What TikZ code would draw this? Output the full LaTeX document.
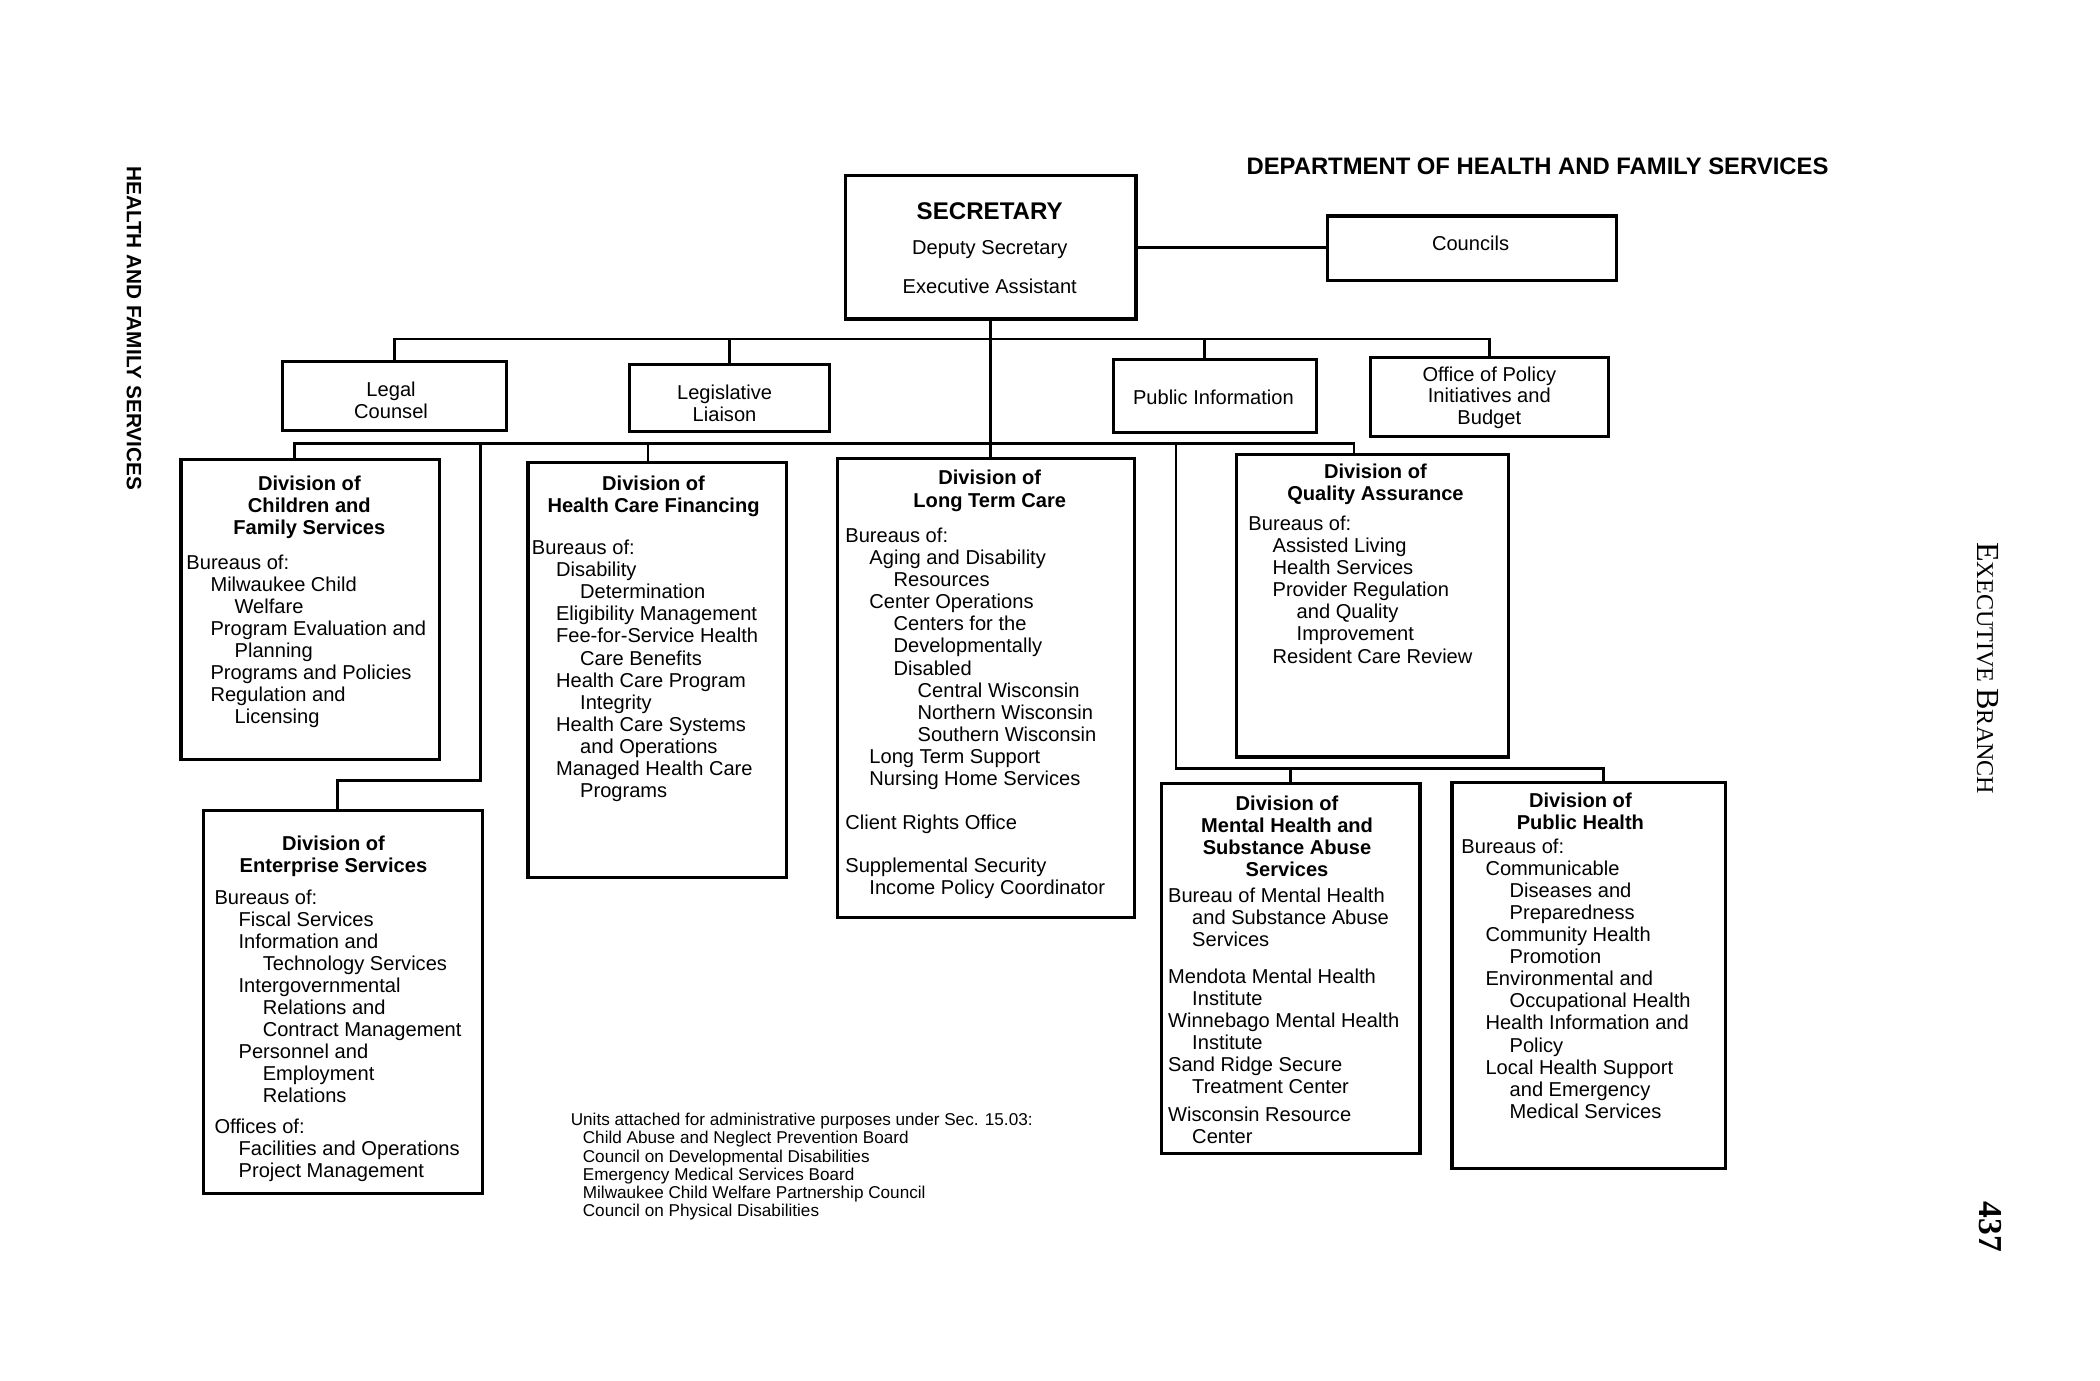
\documentclass[tikz,border=0pt]{standalone}
\usepackage{fontspec}
\setmainfont{Liberation Sans}
\newfontfamily\pageserif{Liberation Serif}
\usetikzlibrary{calc}
\newcommand{\indA}{\hspace*{18pt}}
\newcommand{\indB}{\hspace*{36pt}}
\newcommand{\indC}{\hspace*{54pt}}
\begin{document}
\begin{tikzpicture}[x=1pt, y=-1pt,
        box/.style={draw, line width=2.4pt, anchor=north west, inner sep=0pt},
        conn/.style={line width=2pt},
        ttl/.style={anchor=north, align=center, inner sep=0pt, font=\fontsize{15}{16.5}\selectfont\bfseries},
        body/.style={anchor=north west, align=left, inner sep=0pt, font=\fontsize{15}{16.5}\selectfont},
        small/.style={align=center, inner sep=0pt, font=\fontsize{15}{16}\selectfont}]
    \useasboundingbox (0,0) rectangle (1568,1030.4);
    % margins
    \node[rotate=-90, font=\fontsize{15.5}{16}\selectfont\bfseries] (running) at (100,245) {HEALTH AND FAMILY SERVICES};
    \node[rotate=-90, font=\pageserif\fontsize{18}{20}\selectfont] (branch) at (1484,499)
        {{\fontsize{24}{26}\selectfont E}XECUTIVE {\fontsize{24}{26}\selectfont B}RANCH};
    \node[rotate=-90, font=\pageserif\fontsize{25}{27}\selectfont\bfseries] (page) at (1486,916) {437};
    \node[font=\fontsize{17.8}{19}\selectfont\bfseries] (dept) at (1148,124) {DEPARTMENT OF HEALTH AND FAMILY SERVICES};

    % top level
    \node[box, minimum width=217pt, minimum height=107pt] (sec) at (630,130) {};
    \node[font=\fontsize{18}{20}\selectfont\bfseries] (sectl) at (739,158) {SECRETARY};
    \node[font=\fontsize{15}{16}\selectfont] (dep) at (739,186) {Deputy Secretary};
    \node[font=\fontsize{15}{16}\selectfont] (exe) at (739,214) {Executive Assistant};
    \node[box, minimum width=216pt, minimum height=48pt] (cou) at (990,160) {};
    \node[small] (coutx) at (1098,182) {Councils};

    % staff offices
    \node[box, minimum width=167pt, minimum height=51pt] (legal) at (210,269) {};
    \node[small] (legaltx) at (292,299) {Legal\\Counsel};
    \node[box, minimum width=149pt, minimum height=50pt] (lia) at (469,271) {};
    \node[small] (liatx) at (541,301) {Legislative\\Liaison};
    \node[box, minimum width=152pt, minimum height=55pt] (pub) at (830,267) {};
    \node[small] (pubtx) at (906,297) {Public Information};
    \node[box, minimum width=178pt, minimum height=59pt] (pol) at (1022,266) {};
    \node[small] (poltx) at (1112,297) {Office of Policy\\Initiatives and\\Budget};

    % divisions
    \node[box, minimum width=193pt, minimum height=224pt] (cfs) at (134,342) {};
    \node[ttl] (cfstl) at (231,355) {Division of\\Children and\\Family Services};
    \node[body] (cfsbd) at (139,414) {Bureaus of:\\
        \indA Milwaukee Child\\ \indB Welfare\\
        \indA Program Evaluation and\\ \indB Planning\\
        \indA Programs and Policies\\
        \indA Regulation and\\ \indB Licensing};

    \node[box, minimum width=193pt, minimum height=310pt] (hcf) at (393,344) {};
    \node[ttl] (hcftl) at (488,355) {Division of\\Health Care Financing};
    \node[body] (hcfbd) at (397,403) {Bureaus of:\\
        \indA Disability\\ \indB Determination\\
        \indA Eligibility Management\\
        \indA Fee-for-Service Health\\ \indB Care Benefits\\
        \indA Health Care Program\\ \indB Integrity\\
        \indA Health Care Systems\\ \indB and Operations\\
        \indA Managed Health Care\\ \indB Programs};

    \node[box, minimum width=222pt, minimum height=343pt] (ltc) at (624,341) {};
    \node[ttl] (ltctl) at (739,351) {Division of\\Long Term Care};
    \node[body] (ltcbd) at (631,394) {Bureaus of:\\
        \indA Aging and Disability\\ \indB Resources\\
        \indA Center Operations\\
        \indB Centers for the\\ \indB Developmentally\\ \indB Disabled\\
        \indC Central Wisconsin\\ \indC Northern Wisconsin\\ \indC Southern Wisconsin\\
        \indA Long Term Support\\
        \indA Nursing Home Services\\[16pt]
        Client Rights Office\\[16pt]
        Supplemental Security\\ \indA Income Policy Coordinator};

    \node[box, minimum width=203pt, minimum height=226pt] (qa) at (922,338) {};
    \node[ttl] (qatl) at (1027,346) {Division of\\Quality Assurance};
    \node[body] (qabd) at (932,385) {Bureaus of:\\
        \indA Assisted Living\\
        \indA Health Services\\
        \indA Provider Regulation\\ \indB and Quality\\ \indB Improvement\\
        \indA Resident Care Review};

    \node[box, minimum width=208pt, minimum height=286pt] (ent) at (151,604) {};
    \node[ttl] (enttl) at (249,624) {Division of\\Enterprise Services};
    \node[body] (entbd) at (160,664) {Bureaus of:\\
        \indA Fiscal Services\\
        \indA Information and\\ \indB Technology Services\\
        \indA Intergovernmental\\ \indB Relations and\\ \indB Contract Management\\
        \indA Personnel and\\ \indB Employment\\ \indB Relations\\[6.5pt]
        Offices of:\\
        \indA Facilities and Operations\\
        \indA Project Management};

    \node[box, minimum width=193pt, minimum height=276pt] (mh) at (866,584) {};
    \node[ttl] (mhtl) at (961,594) {Division of\\Mental Health and\\Substance Abuse\\Services};
    \node[body] (mhbd) at (872,663) {Bureau of Mental Health\\
        \indA and Substance Abuse\\ \indA Services\\[10.5pt]
        Mendota Mental Health\\ \indA Institute\\
        Winnebago Mental Health\\ \indA Institute\\
        Sand Ridge Secure\\ \indA Treatment Center\\[4.5pt]
        Wisconsin Resource\\ \indA Center};

    \node[box, minimum width=204pt, minimum height=288pt] (ph) at (1083,583) {};
    \node[ttl] (phtl) at (1180,592) {Division of\\Public Health};
    \node[body] (phbd) at (1091,626) {Bureaus of:\\
        \indA Communicable\\ \indB Diseases and\\ \indB Preparedness\\
        \indA Community Health\\ \indB Promotion\\
        \indA Environmental and\\ \indB Occupational Health\\
        \indA Health Information and\\ \indB Policy\\
        \indA Local Health Support\\ \indB and Emergency\\ \indB Medical Services};

    \node[body, font=\fontsize{12.8}{13.6}\selectfont] (attached) at (426,831)
        {Units attached for administrative purposes under Sec. 15.03:\\
        \hspace*{9pt}Child Abuse and Neglect Prevention Board\\
        \hspace*{9pt}Council on Developmental Disabilities\\
        \hspace*{9pt}Emergency Medical Services Board\\
        \hspace*{9pt}Milwaukee Child Welfare Partnership Council\\
        \hspace*{9pt}Council on Physical Disabilities};

    % connectors
    \coordinate (busA) at (739,253);
    \coordinate (busB) at (739,331);
    \coordinate (pubin) at ($(pub.north west)!0.45!(pub.north east)$);
    \coordinate (cfsin) at ($(cfs.north west)!0.44!(cfs.north east)$);
    \coordinate (hcfin) at ($(hcf.north west)!0.465!(hcf.north east)$);
    \coordinate (qain) at ($(qa.north west)!0.433!(qa.north east)$);
    \coordinate (entin) at ($(ent.north west)!0.48!(ent.north east)$);
    \coordinate (phin) at ($(ph.north west)!0.554!(ph.north east)$);
    \coordinate (entbend) at (359,583);
    \coordinate (mhbend) at (878,574);
    \draw[conn] (sec.east) -- (sec.east -| cou.west);
    \draw[conn] (sec.south) -- (sec.south |- ltc.north);
    \draw[conn] (legal.north) |- (busA) -| (pol.north);
    \draw[conn] (lia.north) -- (lia.north |- busA);
    \draw[conn] (pubin) -- (pubin |- busA);
    \draw[conn] (cfsin) |- (busB) -| (qain);
    \draw[conn] (hcfin) -- (hcfin |- busB);
    \draw[conn] (entbend |- busB) -- (entbend) -| (entin);
    \draw[conn] (mhbend |- busB) -- (mhbend) -| (phin);
    \draw[conn] (mh.north) -- (mh.north |- mhbend);
\end{tikzpicture}
\end{document}
